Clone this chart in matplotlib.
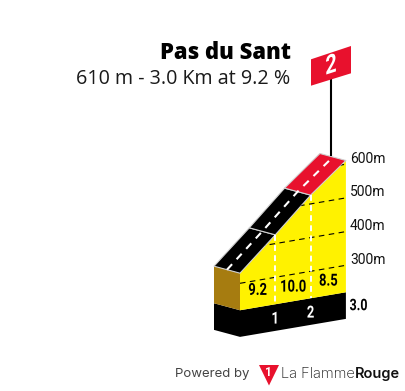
import numpy as np
import matplotlib
matplotlib.use("Agg")
import matplotlib.pyplot as plt
from matplotlib.patches import Polygon
from matplotlib.patheffects import AbstractPathEffect
from matplotlib.transforms import Affine2D

# datos del perfil
title = "Pas du Sant"
subtitle = "610 m - 3.0 Km at 9.2 %"
km = [0, 1, 2, 3]
altitude = [330, 426, 526, 611]
gradients = ["9.2", "10.0", "8.5"]
road_colors = ["#000000", "#000000", "#e8112d"]
alt_ticks = [300, 400, 500, 600]
km_labels = ["1", "2"]
total_km = "3.0"
flag_number = "2"
BASE_TOP = 220
BASE_BOTTOM = 141

YELLOW = "#fff200"
BROWN = "#a67c10"
RED = "#e8112d"


# no hay fuente condensada instalada: se estrecha el texto al dibujarlo
class Squeeze(AbstractPathEffect):
    def __init__(self, sx=0.78, skew=0):
        super().__init__()
        self.sx = sx
        self.skew = skew

    def draw_path(self, renderer, gc, tpath, affine, rgbFace=None):
        ext = tpath.get_extents()
        cx = (ext.x0 + ext.x1) / 2
        t = Affine2D().translate(-cx, 0).scale(self.sx, 1).skew_deg(0, self.skew).translate(cx, 0)
        renderer.draw_path(gc, tpath, t + affine, rgbFace)


# proyeccion oblicua: km y altitud a pixeles de la imagen
def px(k, a):
    return 240 + 35.3 * np.asarray(k, float), 283.3 - 6.0 * np.asarray(k, float) - 0.337 * (np.asarray(a, float) - 300)


DEPTH_X, DEPTH_Y = -26, -7

fig = plt.figure(figsize=(4.05, 3.91), dpi=100)
ax = fig.add_axes([0, 0, 1, 1])
ax.set_xlim(0, 405)
ax.set_ylim(391, 0)
ax.axis("off")

# bloque negro de la base
x0, y0 = px(0, BASE_TOP)
x1, y1 = px(3, BASE_TOP)
xb0, yb0 = px(0, BASE_BOTTOM)
xb1, yb1 = px(3, BASE_BOTTOM)
ax.add_patch(Polygon([(x0, y0), (x1, y1), (xb1, yb1), (xb0, yb0)], fc="black", ec="none"))
ax.add_patch(Polygon([(x0, y0), (xb0, yb0), (xb0 + DEPTH_X, yb0 + DEPTH_Y), (x0 + DEPTH_X, y0 + DEPTH_Y)], fc="black", ec="none"))

# cara lateral marron
xt, yt = px(km[0], altitude[0])
ax.add_patch(Polygon([(xt, yt), (x0, y0), (x0 + DEPTH_X, y0 + DEPTH_Y), (xt + DEPTH_X, yt + DEPTH_Y)], fc=BROWN, ec="none"))

# cara amarilla
xp, yp = px(km, altitude)
pts = list(zip(xp, yp)) + [(x1, y1), (x0, y0)]
face = Polygon(pts, fc=YELLOW, ec="none")
ax.add_patch(face)

# lineas de altitud
for a in alt_ticks:
    lx, ly = px([0, 3], [a, a])
    line, = ax.plot(lx, ly, color="black", lw=0.8, dashes=(5, 4))
    line.set_clip_path(face)

# separadores de km
for k, a in zip(km[1:-1], altitude[1:-1]):
    vx, vy = px([k, k], [a, BASE_TOP])
    ax.plot(vx, vy, color="white", lw=1.4, dashes=(3, 2.2))

# carretera
for i, c in enumerate(road_colors):
    ax.add_patch(Polygon([
        (xp[i], yp[i]), (xp[i + 1], yp[i + 1]),
        (xp[i + 1] + DEPTH_X, yp[i + 1] + DEPTH_Y), (xp[i] + DEPTH_X, yp[i] + DEPTH_Y),
    ], fc=c, ec="#d0d0d0", lw=0.8, joinstyle="round"))
ax.plot(xp + DEPTH_X / 2, yp + DEPTH_Y / 2, color="white", lw=1.5, dashes=(3.6, 3.2), dash_capstyle="butt")

# poste y bandera
ax.plot([330.5, 330.5], [80, 155], color="black", lw=1.5, zorder=1)
ax.add_patch(Polygon([(311, 59.3), (351, 46), (351, 73.3), (311, 85.7)], fc=RED, ec="none"))
ax.text(331, 66, flag_number, color="white", fontsize=19, fontweight="bold", family="Roboto", ha="center", va="center",
        path_effects=[Squeeze(0.75, 18)])

# textos
ax.text(290.5, 53, title, fontsize=15.8, fontweight="heavy", family="Open Sans", ha="right", va="center", color="black")
ax.text(290.5, 79, subtitle, fontsize=14.2, family="Open Sans", ha="right", va="center", color="#1a1a1a")

for a, yl in zip(alt_ticks, [260, 226.5, 192.5, 159.3]):
    ax.text(350, yl, f"{a}m", fontsize=10, family="Roboto", ha="left", va="center", color="#111111")

for g, k, a in zip(gradients, [0.5, 1.5, 2.5], [270, 262, 262]):
    gx, gy = px(k, a)
    ax.text(gx, gy, g, fontsize=12, fontweight="bold", family="Roboto", ha="center", va="center", color="black",
            path_effects=[Squeeze()])

for lab, k in zip(km_labels, km[1:-1]):
    lx, ly = px(k, 176)
    ax.text(lx, ly, lab, fontsize=12, fontweight="bold", family="Roboto", color="white", ha="center", va="center",
            path_effects=[Squeeze()])

ax.text(358.5, 305.7, total_km, fontsize=11.5, fontweight="bold", family="Roboto", ha="center", va="center", color="black",
        path_effects=[Squeeze()])

# pie con el logo
ax.text(249, 374, "Powered by", fontsize=9.5, family="Inter", ha="right", va="center", color="#444444")
ax.add_patch(Polygon([(259, 365), (279, 365), (269, 385.5)], fc=RED, ec="none"))
ax.text(268.8, 372.5, "1", fontsize=8.5, fontweight="bold", color="white", family="Roboto", ha="center", va="center")
ax.text(354.5, 374, "La Flamme", fontsize=10.5, fontweight="light", family="Inter", ha="right", va="center", color="#111111")
ax.text(355, 374, "Rouge", fontsize=10.5, fontweight="semibold", family="Inter", ha="left", va="center", color="#111111")

fig.savefig("out.png", dpi=100)
